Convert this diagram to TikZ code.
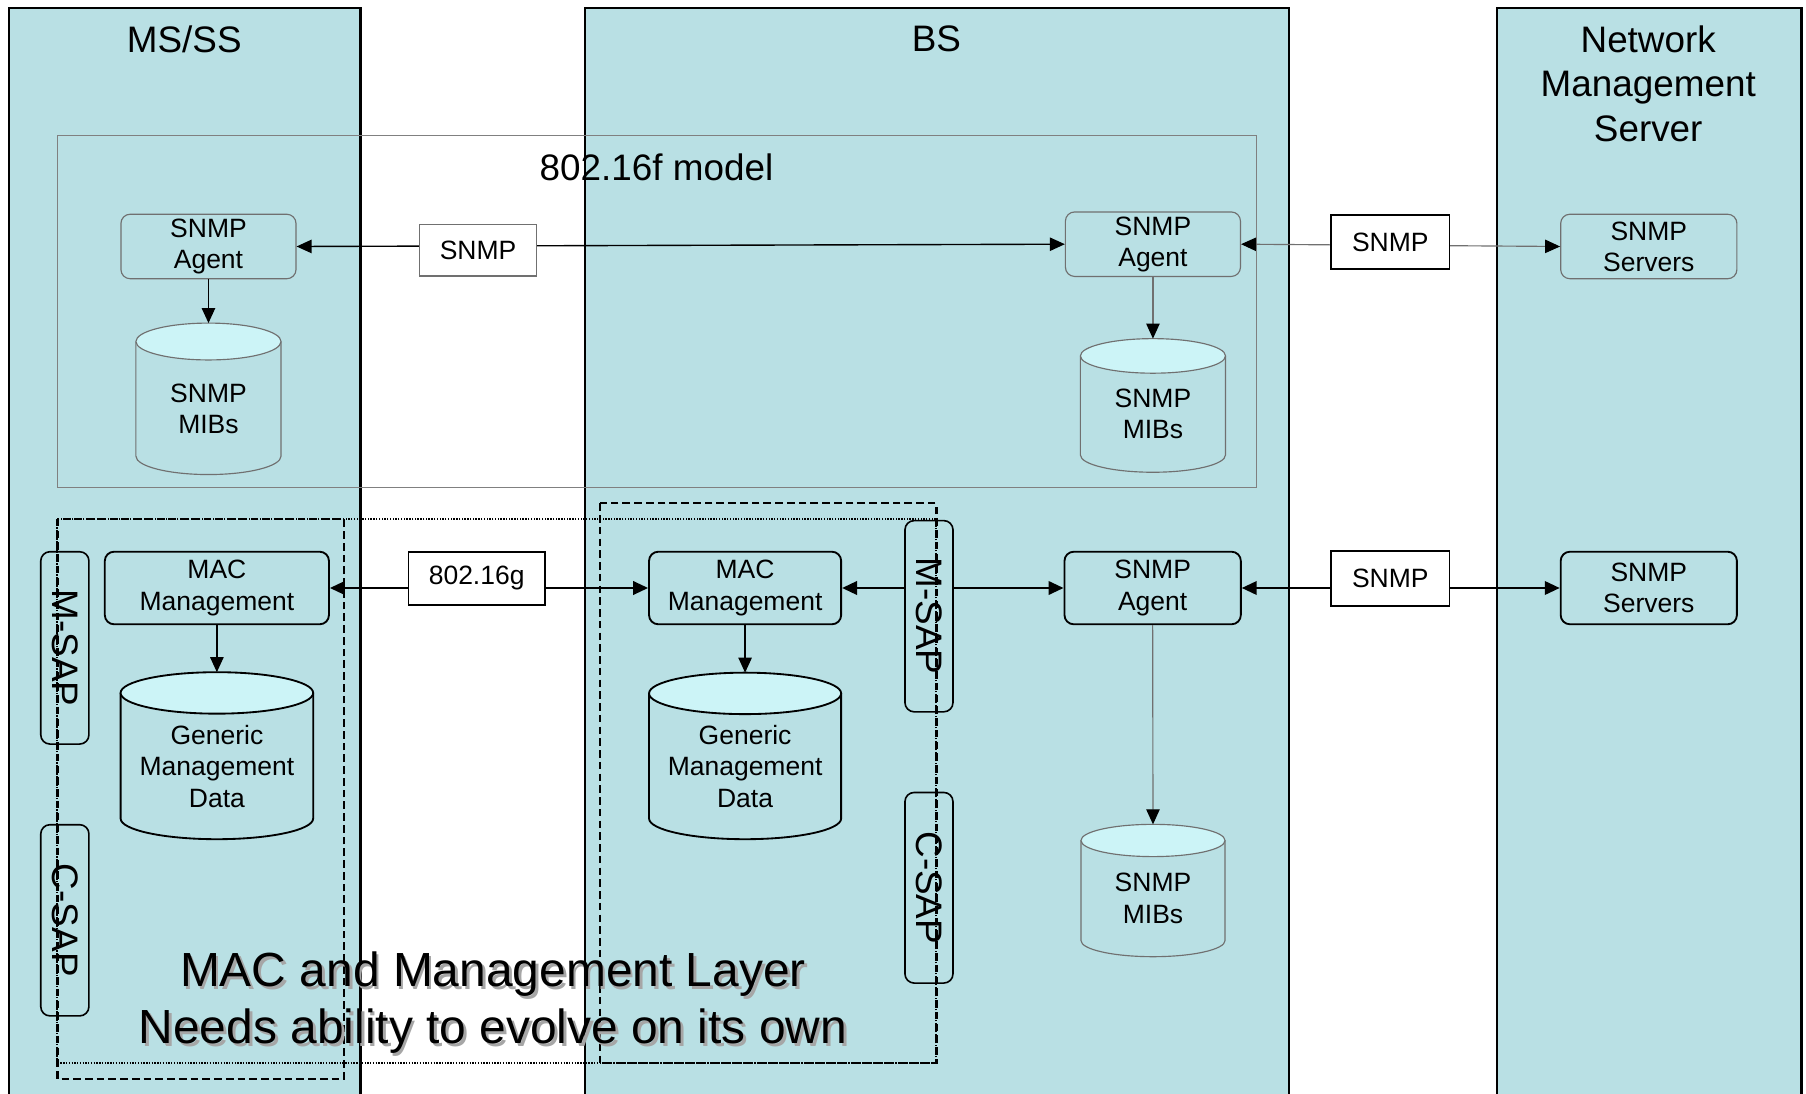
\documentclass[tikz,border=0pt]{standalone}
\usepackage{fontspec}
\setmainfont{Liberation Sans}
\usetikzlibrary{arrows.meta}
\definecolor{colfill}{RGB}{185,224,228}
\definecolor{dbtopc}{RGB}{204,244,247}
\definecolor{thingray}{RGB}{112,112,112}
\newcommand\myfsmall{\fontsize{11.5}{13.5}\selectfont}
\newcommand\myfbig{\fontsize{16}{19.25}\selectfont}
\newcommand\myfhuge{\fontsize{20.8}{24.5}\selectfont}
\tikzset{
  rect/.style n args={4}{at={({(#1+#3)/2},{-(#2+#4)/2})}, minimum width={(#3-#1)*0.5pt}, minimum height={(#4-#2)*0.5pt}},
  col/.style={fill=colfill, draw=black, line width=1pt},
  fbox/.style={draw=black!50, line width=0.6pt},
  rboxg/.style={draw=thingray, line width=0.5pt, rounded corners=4pt, inner sep=0pt, align=center, font=\myfsmall},
  rboxk/.style={draw=black, line width=0.8pt, rounded corners=4pt, inner sep=0pt, align=center, font=\myfsmall},
  lblg/.style={draw=thingray, fill=white, line width=0.5pt, inner sep=0pt, font=\myfsmall},
  lblk/.style={draw=black, fill=white, line width=0.8pt, inner sep=0pt, font=\myfsmall},
  sapbox/.style={draw=black, line width=0.7pt, rounded corners=4pt, inner sep=0pt},
  saptxt/.style={rotate=-90, font=\myfbig, inner sep=0pt},
  dbg/.style={draw=thingray, line width=0.5pt},
  dbk/.style={draw=black, line width=0.8pt},
  title/.style={font=\myfbig, align=center, inner sep=0pt},
  >={Triangle[length=6.5pt,width=5.8pt,color=black]},
  thinline/.style={draw=thingray, line width=0.5pt},
  thinblk/.style={draw=black, line width=0.6pt},
  thickline/.style={draw=black, line width=1.1pt},
  dottedrect/.style={draw=black, line width=0.9pt, dash pattern=on 0.6pt off 0.6pt},
  dashedrect/.style={draw=black, line width=1pt, dash pattern=on 3.3pt off 1.8pt},
}
% cylinder: name, x1, x2, ytop, ybot, ry, text y, text, style
\newcommand\mydb[9]{%
  \pgfmathsetmacro\dbcx{(#2+#3)/2}%
  \pgfmathsetmacro\dbrx{(#3-#2)/2}%
  \pgfmathsetmacro\dbtc{-(#4+#6)}%
  \pgfmathsetmacro\dbbc{-(#5-#6)}%
  \filldraw[#9, fill=colfill] (#2,\dbtc) -- (#2,\dbbc) arc[start angle=180, end angle=360, x radius=\dbrx, y radius=#6] -- (#3,\dbtc);
  \filldraw[#9, fill=dbtopc] (\dbcx,\dbtc) ellipse[x radius=\dbrx, y radius=#6];
  \coordinate (#1-top) at (\dbcx,-#4);
  \node[align=center, font=\myfsmall, inner sep=0pt] (#1) at (\dbcx,-#7) {#8};
}
\begin{document}
\begin{tikzpicture}[x=0.5pt, y=0.5pt]
\clip (0,0) rectangle (1568,-949);
\fill[white] (0,0) rectangle (1568,-949);
% columns
\draw[col] (8,-7) rectangle (313,-980);
\draw[col] (508,-7) rectangle (1119,-980);
\draw[col] (1299.5,-7) rectangle (1564,-980);
\node[title] (tms) at (160,-34) {MS/SS};
\node[title] (tbs) at (813,-34) {BS};
\node[title] (tnms) at (1431,-72.5) {Network\\Management\\Server};
% 802.16f model box
\draw[fbox] (49.8,-117.8) rectangle (1090.8,-423.4);
\node[title] (fmodel) at (570,-145) {802.16f model};

% upper nodes
\node[rboxg, rect={105}{186}{257}{242}] (msag) {SNMP\\Agent};
\mydb{msmib}{118}{244}{280.5}{412}{16}{355}{SNMP\\MIBs}{dbg}
\node[rboxg, rect={925}{184}{1077}{240}] (bsag) {SNMP\\Agent};
\mydb{bsmib}{938}{1064}{294}{410}{15}{359}{SNMP\\MIBs}{dbg}
\node[rboxg, rect={1355}{186}{1508}{242}] (nmsrv) {SNMP\\Servers};

% lower nodes
\node[rboxk, rect={91}{479}{285.6}{542}] (msmac) {MAC\\Management};
\mydb{msgmd}{104.7}{271.9}{583.6}{728.6}{18}{665.5}{Generic\\Management\\Data}{dbk}
\node[rboxk, rect={563.5}{479}{730.3}{542}] (bsmac) {MAC\\Management};
\mydb{bsgmd}{563.5}{730.3}{584}{728.6}{18}{665.5}{Generic\\Management\\Data}{dbk}
\node[rboxk, rect={924.2}{479}{1077.3}{542}] (bsag2) {SNMP\\Agent};
\mydb{bsmib2}{938.5}{1063.6}{715.7}{830.6}{14}{780}{SNMP\\MIBs}{dbg}
\node[rboxk, rect={1355}{479}{1508}{542}] (nmsrv2) {SNMP\\Servers};

% SAP boxes
\node[sapbox, rect={35.4}{479}{77.2}{646}] (msmsap) {};
\node[saptxt] (msmsaptxt) at (msmsap.center) {M-SAP};
\node[sapbox, rect={35.4}{716}{77.2}{882}] (mscsap) {};
\node[saptxt] (mscsaptxt) at (mscsap.center) {C-SAP};
\node[sapbox, rect={785.7}{452}{827.4}{618}] (bsmsap) {};
\node[saptxt] (bsmsaptxt) at (bsmsap.center) {M-SAP};
\node[sapbox, rect={785.7}{688}{827.4}{853.5}] (bscsap) {};
\node[saptxt] (bscsaptxt) at (bscsap.center) {C-SAP};

% upper connectors
\draw[thinblk, <->] (msag.east) -- (bsag.west);
\draw[thinblk, ->] (msag.south) -- (msmib-top);
\draw[thinline, ->] (bsag.south) -- (bsmib-top);
\draw[thinline, <->] (bsag.east) -- (nmsrv.west);
\node[lblg, rect={364.2}{194.7}{465.9}{239.6}] (snmp1) {SNMP};
\node[lblk, rect={1155.7}{186.7}{1258.4}{233.8}] (snmp2) {SNMP};

% lower connectors
\draw[thickline, <->] (msmac.east) -- (bsmac.west);
\draw[thickline, ->] (bsmsap.west |- bsmac.east) -- (bsmac.east);
\draw[thickline, ->] (bsmsap.east |- bsag2.west) -- (bsag2.west);
\draw[thickline, <->] (bsag2.east) -- (nmsrv2.west);
\draw[thinblk, ->] (msmac.south) -- (msgmd-top);
\draw[thinblk, ->] (bsmac.south) -- (bsgmd-top);
\draw[thinline, ->] (bsag2.south) -- (bsmib2-top);
\node[lblk, rect={354.7}{479}{473}{525.5}] (g16) {802.16g};
\node[lblk, rect={1155.7}{478.4}{1258.4}{526}] (snmp3) {SNMP};

% dashed / dotted regions
\draw[dottedrect] (49.8,-450.5) rectangle (813,-923);
\draw[dashedrect] (49.8,-450.5) rectangle (298.7,-936.5);
\draw[dashedrect] (521,-437) rectangle (813,-923);

% big caption with shadow
\node[font=\myfhuge, align=center, text=black!35, inner sep=0pt] (capshadow) at (430.5,-873) {MAC and Management Layer\\Needs ability to evolve on its own};
\node[font=\myfhuge, align=center, inner sep=0pt] (caption) at (428,-870.5) {MAC and Management Layer\\Needs ability to evolve on its own};
\end{tikzpicture}
\end{document}
